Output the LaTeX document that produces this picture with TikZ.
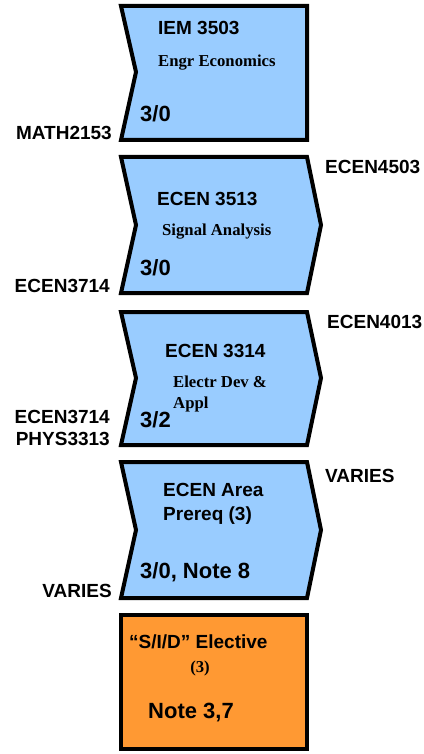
\documentclass[tikz,border=0pt]{standalone}
\usepackage{fontspec}
\setmainfont{Liberation Sans}
\newfontfamily\serifbf{Liberation Serif}
\definecolor{cblue}{HTML}{99CCFF}
\definecolor{corange}{HTML}{FF9933}
\tikzset{
  coursebox/.style={draw=black, line width=4pt, fill=cblue, line join=miter},
  electbox/.style={draw=black, line width=4pt, fill=corange, line join=miter},
  titletxt/.style={font=\bfseries\fontsize{19}{21}\selectfont, inner sep=0pt, anchor=base west},
  reqtxt/.style={font=\bfseries\fontsize{19}{21}\selectfont, inner sep=0pt, anchor=base west},
  reqtxtr/.style={font=\bfseries\fontsize{19}{21}\selectfont, inner sep=0pt, anchor=base east},
  credtxt/.style={font=\bfseries\fontsize{22}{24}\selectfont, inner sep=0pt, anchor=base west},
  nametxt/.style={font=\serifbf\bfseries\fontsize{16.7}{18}\selectfont, inner sep=0pt, anchor=base west},
}
\begin{document}
\begin{tikzpicture}[x=1pt,y=-1pt]
\useasboundingbox (0,0) rectangle (423,754);
% course 1
\draw[coursebox] (121,6) -- (307,6) -- (307,140) -- (121,140) -- (136,72) -- cycle;
\node[titletxt] (c1t) at (158,35) {IEM 3503};
\node[nametxt] (c1n) at (158,67) {Engr Economics};
\node[credtxt] (c1c) at (140,122) {3/0};
\node[reqtxtr] (c1p) at (112,140) {MATH2153};
% course 2
\draw[coursebox] (121,157) -- (307,157) -- (321,225) -- (307,293) -- (121,293) -- (136,225) -- cycle;
\node[titletxt] (c2t) at (157,205) {ECEN 3513};
\node[nametxt] (c2n) at (162,235) {Signal Analysis};
\node[credtxt] (c2c) at (140,275) {3/0};
\node[reqtxtr] (c2p) at (110,292) {ECEN3714};
\node[reqtxt] (c2f) at (325,174) {ECEN4503};
% course 3
\draw[coursebox] (121,312) -- (307,312) -- (321,378) -- (307,445) -- (121,445) -- (136,378) -- cycle;
\node[titletxt] (c3t) at (165,357) {ECEN 3314};
\node[nametxt] (c3n) at (173,387) {Electr Dev \&};
\node[nametxt] (c3m) at (173,408) {Appl};
\node[credtxt] (c3c) at (140,427) {3/2};
\node[reqtxtr] (c3p) at (110,423) {ECEN3714};
\node[reqtxtr] (c3q) at (110,445) {PHYS3313};
\node[reqtxt] (c3f) at (327,328) {ECEN4013};
% course 4
\draw[coursebox] (121,462) -- (307,462) -- (321,530) -- (307,598) -- (121,598) -- (136,530) -- cycle;
\node[titletxt] (c4t) at (163,496) {ECEN Area};
\node[titletxt] (c4u) at (163,520) {Prereq (3)};
\node[credtxt] (c4c) at (140,578) {3/0, Note 8};
\node[reqtxtr] (c4p) at (112,597) {VARIES};
\node[reqtxt] (c4f) at (325,482) {VARIES};
% elective
\draw[electbox] (121,615) rectangle (307,749);
\node[titletxt] (e1t) at (129,648) {“S/I/D” Elective};
\node[nametxt, anchor=base] (e1n) at (200,672) {(3)};
\node[credtxt] (e1c) at (148,718) {Note 3,7};
\end{tikzpicture}
\end{document}
